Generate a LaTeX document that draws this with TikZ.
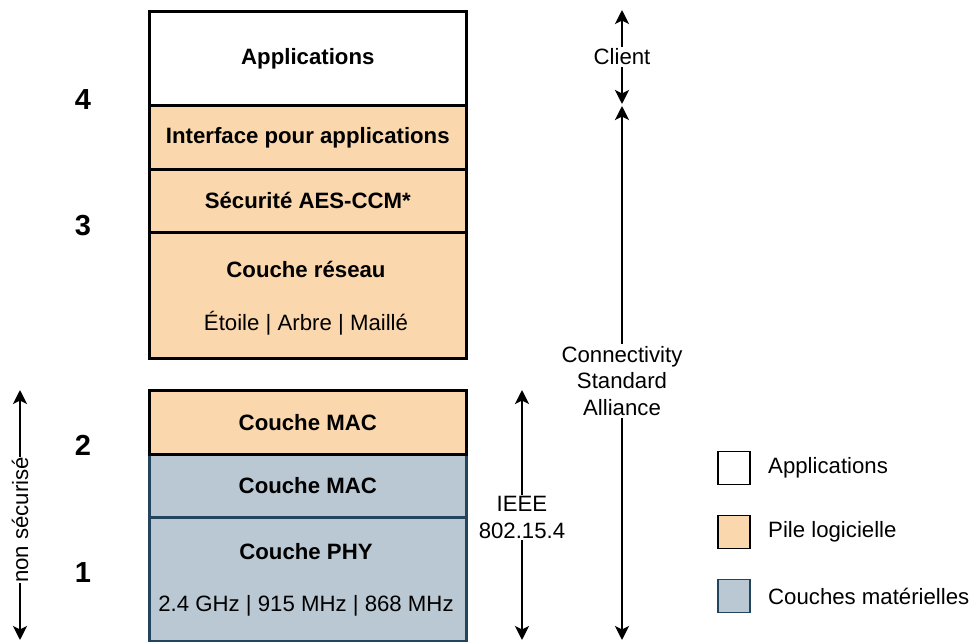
\documentclass[tikz,border=0pt]{standalone}
\usepackage{fontspec}
\setmainfont{Liberation Sans}
\usetikzlibrary{arrows.meta}
\definecolor{softorange}{HTML}{FAD7AC}
\definecolor{hardblue}{HTML}{BAC8D3}
\definecolor{hardedge}{HTML}{23445D}

\begin{document}
\begin{tikzpicture}[x=1pt, y=-1pt,
	layer/.style={draw, line width=2.6pt, minimum width=317pt, anchor=north west, inner sep=0pt,
		font=\fontsize{22.2}{26}\selectfont\bfseries},
	soft/.style={layer, fill=softorange},
	hard/.style={layer, fill=hardblue, draw=hardedge},
	lbl/.style={font=\fontsize{22.2}{26.5}\selectfont, align=center},
	num/.style={font=\fontsize{29}{32}\selectfont\bfseries},
	twoway/.style={line width=2.8pt, {Stealth[length=14pt,width=14pt,inset=3.5pt]}-{Stealth[length=14pt,width=14pt,inset=3.5pt]}},
	key/.style={draw, line width=1.8pt, minimum width=32pt, minimum height=33pt, inner sep=0pt}]
	\useasboundingbox (0, 0) rectangle (970, 642);
	
	% pile
	\node[layer, fill=white, minimum height=94pt] (appl) at (148, 10) {Applications};
	\node[soft, minimum height=64pt] (iface) at (148, 104) {Interface pour applications};
	\node[soft, minimum height=63pt] (secu) at (148, 168) {Sécurité AES-CCM*};
	\node[soft, minimum height=126pt] (reseau) at (148, 231) {};
	\node[font=\fontsize{22.2}{26}\selectfont\bfseries] (reseautitle) at (306, 269) {Couche réseau};
	\node[lbl] (topo) at (306, 323) {Étoile | Arbre | Maillé};
	
	\node[hard, minimum height=63pt] (macb) at (148, 453) {Couche MAC};
	\node[hard, minimum height=124pt] (phy) at (148, 516) {};
	\node[soft, minimum height=64pt] (maca) at (148, 389) {Couche MAC};
	\node[font=\fontsize{22.2}{26}\selectfont\bfseries] (phytitle) at (306, 552) {Couche PHY};
	\node[lbl] (freq) at (306, 606) {2.4 GHz | 915 MHz | 868 MHz};
	
	% niveaux
	\node[num] (n4) at (83, 100) {4};
	\node[num] (n3) at (83, 226) {3};
	\node[num] (n2) at (83, 445) {2};
	\node[num] (n1) at (83, 573) {1};
	
	% portees
	\coordinate (nsTop) at (20, 390);
	\coordinate (nsBot) at (20, 640);
	\coordinate (ieTop) at (522, 390);
	\coordinate (ieBot) at (522, 640);
	\coordinate (clTop) at (622, 10);
	\coordinate (clBot) at (622, 104);
	\coordinate (csTop) at (622, 106);
	\coordinate (csBot) at (622, 640);
	
	\draw[twoway] (nsTop) -- node[lbl, fill=white, inner sep=0.5pt, rotate=90, pos=0.52] (nonsec) {non sécurisé} (nsBot);
	\draw[twoway] (ieTop) -- node[lbl, fill=white, inner sep=2pt, pos=0.51] (ieee) {IEEE\\802.15.4} (ieBot);
	\draw[twoway] (clTop) -- node[lbl, fill=white, inner sep=2pt] (client) {Client} (clBot);
	\draw[twoway] (csTop) -- node[lbl, fill=white, inner sep=2pt, pos=0.515] (csa) {Connectivity\\Standard\\Alliance} (csBot);
	
	% legende
	\node[key, fill=white] (kappl) at (734, 468) {};
	\node[key, fill=softorange] (ksoft) at (734, 532) {};
	\node[key, fill=hardblue, draw=hardedge] (khard) at (734, 596) {};
	\node[lbl, anchor=west, inner sep=0pt] (tappl) at (768, 468) {Applications};
	\node[lbl, anchor=west, inner sep=0pt] (tsoft) at (768, 532) {Pile logicielle};
	\node[lbl, anchor=west, inner sep=0pt] (thard) at (768, 596) {Couches matérielles};
\end{tikzpicture}
\end{document}
